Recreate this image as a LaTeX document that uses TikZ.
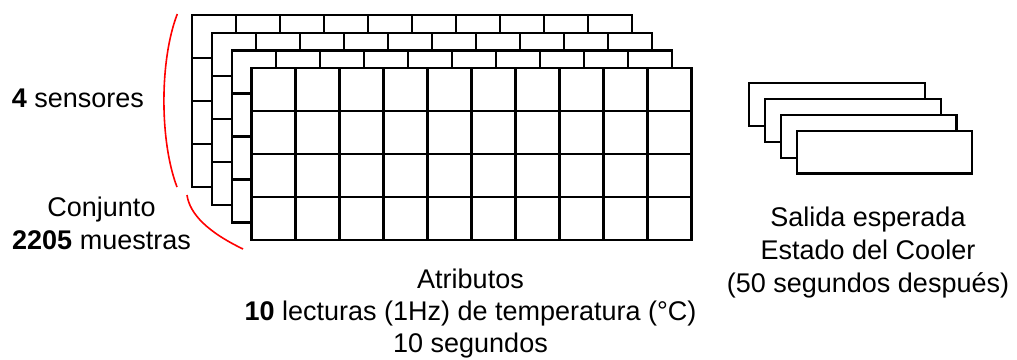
\documentclass[tikz,border=0pt]{standalone}
\usepackage{fontspec}
\setmainfont{Liberation Sans}
\begin{document}
\begin{tikzpicture}[x=1pt,y=-1pt,
  gridline/.style={line width=2.2pt,black},
  bracket/.style={line width=1.6pt,red},
  lbl/.style={inner sep=0pt,anchor=base,font=\fontsize{27}{32.5}\selectfont}]
\useasboundingbox (0,0) rectangle (1017,359);
% stacked grids (back to front)
\foreach \k in {0,1,2,3}{
  \pgfmathsetmacro{\gx}{192+19.8*\k}
  \pgfmathsetmacro{\gy}{15+17.75*\k}
  \fill[white] (\gx,\gy) rectangle ++(440,172);
  \foreach \i in {1,...,9}{
    \draw[gridline] (\gx+44*\i,\gy) -- ++(0,172);
  }
  \foreach \j in {1,2,3}{
    \draw[gridline] (\gx,\gy+43*\j) -- ++(440,0);
  }
  \draw[gridline] (\gx,\gy) rectangle ++(440,172);
}
% stacked output boxes
\foreach \k in {0,1,2,3}{
  \pgfmathsetmacro{\ox}{749.3+15.8*\k}
  \pgfmathsetmacro{\oy}{83.3+15.8*\k}
  \filldraw[gridline,fill=white] (\ox,\oy) rectangle ++(175.5,42.7);
}
% red brackets
\coordinate (s1) at (177.3,14);
\coordinate (s2) at (177,187);
\coordinate (c1) at (187,195);
\coordinate (c2) at (243,249);
\draw[bracket] (s1) .. controls (159.5,60) and (159.5,141) .. (s2);
\draw[bracket] (c1) .. controls (189.7,214.3) and (208.3,232.3) .. (c2);
% labels
\node[lbl,anchor=base west] (sens) at (11.7,107.3) {\textbf{4} sensores};
\node[lbl] (conj1) at (101.5,216.7) {Conjunto};
\node[lbl] (conj2) at (101.5,249.3) {\textbf{2205} muestras};
\node[lbl] (attr1) at (470.5,288) {Atributos};
\node[lbl] (attr2) at (470.5,320.7) {\textbf{10} lecturas (1Hz) de temperatura (°C)};
\node[lbl] (attr3) at (470.5,352) {10 segundos};
\node[lbl] (out1) at (868,226.7) {Salida esperada};
\node[lbl] (out2) at (868,259.3) {Estado del Cooler};
\node[lbl] (out3) at (868,292) {(50 segundos después)};
\end{tikzpicture}
\end{document}
